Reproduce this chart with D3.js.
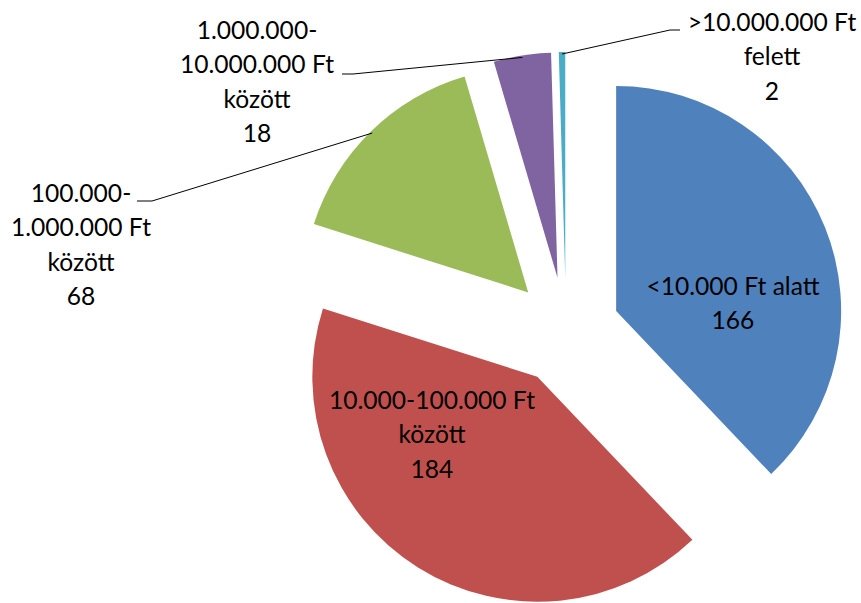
<!DOCTYPE html>
<html>
<head>
<meta charset="utf-8">
<script src="https://cdn.jsdelivr.net/npm/d3@7"></script>
<style>
  html, body { margin: 0; padding: 0; background: #ffffff; }
  svg { display: block; }
</style>
</head>
<body>
<svg id="chart" width="861" height="603"></svg>
<script>
// ---- data ----
const categories = [
  "<10.000 Ft alatt",
  "10.000-100.000 Ft\nközött",
  "100.000-\n1.000.000 Ft\nközött",
  "1.000.000-\n10.000.000 Ft\nközött",
  ">10.000.000 Ft\nfelett"
];
const values = [166, 184, 68, 18, 2];
const colors = ["#4F81BD", "#C0504D", "#9BBB59", "#8064A2", "#4BACC6"];

// ---- layout (label placement, not data) ----
const labelLayout = [
  { inside: true,  x: 733, y: 286 },
  { inside: true,  x: 432, y: 400 },
  { inside: false, x: 81,  y: 193, elbow: [152, 201], end: [137, 201] },
  { inside: false, x: 257, y: 30,  elbow: [353, 74],  end: [342, 74] },
  { inside: false, x: 772, y: 22,  elbow: [670, 30],  end: [680, 30] }
];

const cx = 566, cy = 331, R = 225, explode = 54, lineH = 34.5, fontSize = 24.6;

const svg = d3.select("#chart");
const pie = d3.pie().sort(null).startAngle(0).endAngle(2 * Math.PI).value(d => d);
const arc = d3.arc().innerRadius(0).outerRadius(R);
const arcs = pie(values);

const g = svg.append("g").attr("transform", `translate(${cx},${cy})`);

function dir(a) { return [Math.sin(a), -Math.cos(a)]; }

g.selectAll("path.slice")
  .data(arcs)
  .join("path")
  .attr("class", "slice")
  .attr("d", arc)
  .attr("fill", (d, i) => colors[i])
  .attr("transform", d => {
    const m = (d.startAngle + d.endAngle) / 2;
    const [ux, uy] = dir(m);
    return `translate(${ux * explode},${uy * explode})`;
  });

// leader lines
arcs.forEach((d, i) => {
  const L = labelLayout[i];
  if (L.inside) return;
  const m = (d.startAngle + d.endAngle) / 2;
  const [ux, uy] = dir(m);
  const sx = cx + ux * (explode + R - 2), sy = cy + uy * (explode + R - 2);
  svg.append("path")
    .attr("d", d3.line()([[sx, sy], L.elbow, L.end]))
    .attr("fill", "none")
    .attr("stroke", "#000")
    .attr("stroke-width", 1);
});

// labels
arcs.forEach((d, i) => {
  const L = labelLayout[i];
  const lines = categories[i].split("\n").concat([String(values[i])]);
  const t = svg.append("text")
    .attr("text-anchor", "middle")
    .attr("font-family", "Lato, 'Open Sans', sans-serif")
    .attr("font-size", fontSize)
    .attr("fill", "#000");
  lines.forEach((ln, k) => {
    t.append("tspan")
      .attr("x", L.x)
      .attr("y", L.y + k * lineH + 8.7)
      .text(ln);
  });
});
</script>
</body>
</html>
